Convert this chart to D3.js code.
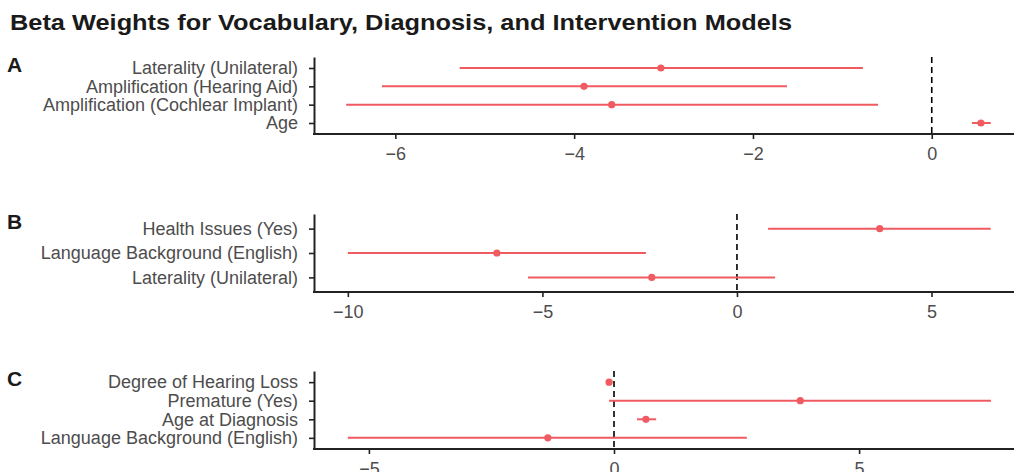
<!DOCTYPE html>
<html>
<head>
<meta charset="utf-8">
<script src="https://cdn.jsdelivr.net/npm/d3@7"></script>
<style>
  body { margin: 0; background: #fff; }
  svg { display: block; font-family: "Liberation Sans", Arial, sans-serif; }
</style>
</head>
<body>
<svg width="1014" height="472"></svg>
<script>
// panel A: vocabulary model
var labelsA = ["Age", "Amplification (Cochlear Implant)", "Amplification (Hearing Aid)", "Laterality (Unilateral)"];
var estA = [0.55, -3.58, -3.89, -3.03];
var lowA = [0.45, -6.55, -6.15, -5.28];
var highA = [0.66, -0.60, -1.62, -0.77];
var ticksA = [-6, -4, -2, 0];
var domainA = [-6.91, 0.92];

// panel B: diagnosis model
var labelsB = ["Laterality (Unilateral)", "Language Background (English)", "Health Issues (Yes)"];
var estB = [-2.19, -6.17, 3.67];
var lowB = [-5.37, -10.0, 0.80];
var highB = [0.98, -2.34, 6.52];
var ticksB = [-10, -5, 0, 5];
var domainB = [-10.87, 7.12];

// panel C: intervention model
var labelsC = ["Language Background (English)", "Age at Diagnosis", "Premature (Yes)", "Degree of Hearing Loss"];
var estC = [-1.35, 0.65, 3.80, -0.10];
var lowC = [-5.43, 0.47, -0.10, -0.14];
var highC = [2.71, 0.86, 7.69, -0.06];
var ticksC = [-5, 0, 5];
var domainC = [-6.12, 8.16];

var red = "#f05a61",
    axisCol = "#222",
    textCol = "#4d4d4d";

var svg = d3.select("svg");

svg.append("text")
    .attr("x", 10)
    .attr("y", 30)
    .attr("font-size", 22)
    .attr("font-weight", "bold")
    .attr("fill", "#1a1a1a")
    .attr("textLength", 782)
    .attr("lengthAdjust", "spacingAndGlyphs")
    .text("Beta Weights for Vocabulary, Diagnosis, and Intervention Models");

var left = 314, right = 1014;

function panel(letter, top, bottom, labels, est, low, high, ticks, domain) {
  var x = d3.scaleLinear().domain(domain).range([left, right]);
  var y = d3.scalePoint().domain(labels).range([bottom, top]).padding(0.6);

  var g = svg.append("g");

  g.append("text")
      .attr("x", 7)
      .attr("y", top + 15)
      .attr("font-size", 21)
      .attr("font-weight", "bold")
      .attr("fill", "#1a1a1a")
      .text(letter);

  // zero reference
  g.append("line")
      .attr("x1", x(0)).attr("x2", x(0))
      .attr("y1", top).attr("y2", bottom)
      .attr("stroke", "#000")
      .attr("stroke-width", 1.6)
      .attr("stroke-dasharray", "6,4");

  var rows = labels.map(function(d, i) {
    return {label: d, est: est[i], low: low[i], high: high[i]};
  });

  g.selectAll(".ci").data(rows).enter().append("line")
      .attr("x1", function(d) { return x(d.low); })
      .attr("x2", function(d) { return x(d.high); })
      .attr("y1", function(d) { return y(d.label); })
      .attr("y2", function(d) { return y(d.label); })
      .attr("stroke", red)
      .attr("stroke-width", 2);

  g.selectAll(".pt").data(rows).enter().append("circle")
      .attr("cx", function(d) { return x(d.est); })
      .attr("cy", function(d) { return y(d.label); })
      .attr("r", 3.6)
      .attr("fill", red);

  var xAxis = g.append("g")
      .attr("transform", "translate(0," + bottom + ")")
      .call(d3.axisBottom(x).tickValues(ticks).tickSize(5).tickPadding(8).tickSizeOuter(0));

  var yAxis = g.append("g")
      .attr("transform", "translate(" + left + ",0)")
      .call(d3.axisLeft(y).tickSize(5).tickPadding(11).tickSizeOuter(0));

  [xAxis, yAxis].forEach(function(a) {
    a.select(".domain").attr("stroke", axisCol).attr("stroke-width", 2);
    a.selectAll(".tick line").attr("stroke", axisCol).attr("stroke-width", 1.6);
    a.selectAll(".tick text")
        .attr("fill", textCol)
        .attr("font-size", 18)
        .attr("font-family", "Liberation Sans, Arial, sans-serif");
  });
  // axes meet at the corner
  xAxis.select(".domain").attr("d", "M" + (left - 1) + ",0H" + right);
}

panel("A", 57, 134, labelsA, estA, lowA, highA, ticksA, domainA);
panel("B", 214, 292, labelsB, estB, lowB, highB, ticksB, domainB);
panel("C", 371, 449, labelsC, estC, lowC, highC, ticksC, domainC);
</script>
</body>
</html>
